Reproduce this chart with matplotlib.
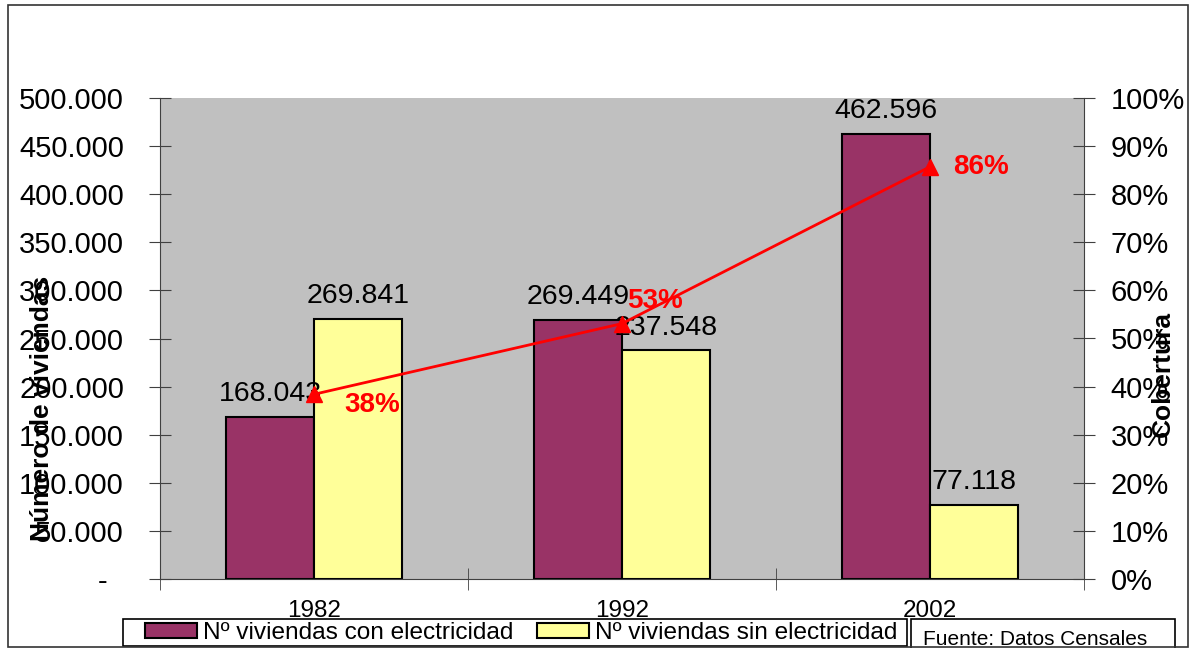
import matplotlib
matplotlib.use('Agg')
import matplotlib.pyplot as pyplot
import numpy
from matplotlib.patches import Patch, Rectangle
from matplotlib.ticker import FuncFormatter, MultipleLocator

# data
years = ['1982', '1992', '2002']
con_electricidad = [168043, 269449, 462596]
sin_electricidad = [269841, 237548, 77118]
cobertura = [0.384, 0.531, 0.857]
pct_offsets = [(42, -8), (24, 16), (37, 0)]  # label offsets in points

pyplot.rcParams['font.family'] = ['Liberation Sans', 'DejaVu Sans']

W, H = 1193, 648
fig = pyplot.figure(figsize=(W / 100, H / 100), dpi=100)

def fx(px):
    return px / W

def fy(py):
    return 1 - py / H

ax = fig.add_axes([fx(160), fy(579), fx(1084) - fx(160), fy(98) - fy(579)])
ax.set_facecolor('#C0C0C0')

x = numpy.arange(len(years))
width = 0.285
ax.bar(x - width / 2, con_electricidad, width, color='#993366', edgecolor='black', linewidth=1.5, zorder=2)
ax.bar(x + width / 2, sin_electricidad, width, color='#FFFF99', edgecolor='black', linewidth=1.5, zorder=2)

# value labels above bars
for i in range(len(years)):
    ax.annotate('{:,}'.format(con_electricidad[i]).replace(',', '.'), (x[i] - width / 2, con_electricidad[i]),
                xytext=(0, 11.5), textcoords='offset points', ha='center', va='baseline', fontsize=20.5)
    ax.annotate('{:,}'.format(sin_electricidad[i]).replace(',', '.'), (x[i] + width / 2, sin_electricidad[i]),
                xytext=(0, 11.5), textcoords='offset points', ha='center', va='baseline', fontsize=20.5)

ax.set_xlim(-0.5, len(years) - 0.5)
ax.set_ylim(0, 500000)
ax.yaxis.set_major_locator(MultipleLocator(50000))
ax.yaxis.set_major_formatter(FuncFormatter(lambda v, p: '-  ' if v == 0 else '{:,.0f}'.format(v).replace(',', '.')))
ax.set_xticks(x)
ax.set_xticklabels(years)
ax.set_xticks(numpy.arange(len(years) + 1) - 0.5, minor=True)
ax.tick_params(axis='x', which='major', length=0, labelsize=17.5, pad=15)
ax.tick_params(axis='x', which='minor', direction='inout', length=16, color='#404040')
ax.tick_params(axis='y', direction='inout', length=16, labelsize=21, pad=18, color='#404040')
for s in ['top', 'right']:
    ax.spines[s].set_visible(False)
for s in ['left', 'bottom']:
    ax.spines[s].set_color('#404040')

# coverage line on the right axis
ax2 = ax.twinx()
ax2.plot(x, cobertura, color='red', linewidth=2, marker='^', markersize=12, zorder=3)
for i, v in enumerate(cobertura):
    ax2.annotate('{:.0f}%'.format(v * 100), (x[i], v), xytext=pct_offsets[i], textcoords='offset points',
                 ha='center', va='center', fontsize=20, fontweight='bold', color='red')
ax2.set_ylim(0, 1)
ax2.yaxis.set_major_locator(MultipleLocator(0.1))
ax2.yaxis.set_major_formatter(FuncFormatter(lambda v, p: '{:.0f}%'.format(v * 100)))
ax2.tick_params(axis='y', direction='inout', length=16, labelsize=21, pad=11, color='#404040')
for s in ['top', 'left', 'bottom']:
    ax2.spines[s].set_visible(False)
ax2.spines['right'].set_color('#404040')

# axis titles
fig.text(fx(42), fy(408), 'Número de viviendas', rotation=90, ha='center', va='center',
         fontsize=19, fontweight='bold')
fig.text(fx(1163), fy(374), 'Cobertura', rotation=90, ha='center', va='center',
         fontsize=19, fontweight='bold')

# legend (frame drawn separately)
fig.add_artist(Rectangle((fx(123), fy(646)), fx(907) - fx(123), fy(619) - fy(646),
                         transform=fig.transFigure, facecolor='white', edgecolor='black', linewidth=1.2))
handles = [Patch(facecolor='#993366', edgecolor='black', linewidth=1.5),
           Patch(facecolor='#FFFF99', edgecolor='black', linewidth=1.5)]
leg = fig.legend(handles, ['Nº viviendas con electricidad', 'Nº viviendas sin electricidad'],
                 loc='center left', bbox_to_anchor=(fx(145), fy(633)), ncol=2, fontsize=17.6,
                 frameon=False, borderpad=0, handlelength=2.13, handleheight=0.53,
                 handletextpad=0.25, columnspacing=0.94, borderaxespad=0)

# source box
fig.add_artist(Rectangle((fx(911), fy(660)), fx(1175) - fx(911), fy(619) - fy(660),
                         transform=fig.transFigure, facecolor='white', edgecolor='black', linewidth=1.2))
fig.text(fx(923), fy(645), 'Fuente: Datos Censales', fontsize=15, ha='left', va='baseline')

# outer frame
fig.add_artist(Rectangle((fx(8), fy(647)), fx(1188) - fx(8), fy(5) - fy(647),
                         transform=fig.transFigure, facecolor='none', edgecolor='#333333', linewidth=1.2))

fig.savefig('out.png', dpi=100)
